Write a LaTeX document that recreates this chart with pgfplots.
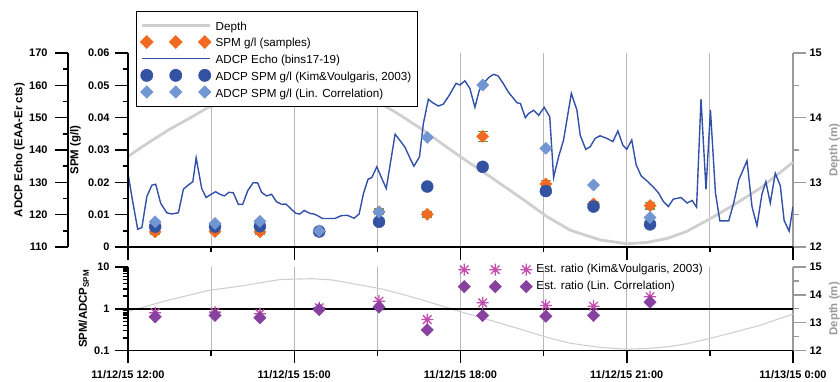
\documentclass[border=0pt]{standalone}
\usepackage{fontspec}
\setmainfont{Liberation Sans}
\usepackage{pgfplots}
\pgfplotsset{compat=1.18}
\usepackage{pgfplotstable}

\definecolor{echoC}{HTML}{3350A8}
\definecolor{orgC}{HTML}{F26A22}
\definecolor{errC}{HTML}{5E9E4E}
\definecolor{kimC}{HTML}{3452A2}
\definecolor{linC}{HTML}{7196D2}
\definecolor{depC}{HTML}{CFCFCF}
\definecolor{starC}{HTML}{C24EB0}
\definecolor{diaC}{HTML}{87419E}
\definecolor{gridC}{HTML}{B8B8B8}
\definecolor{raxC}{HTML}{9A9A9A}

\pgfdeclareplotmark{star8}{%
 \pgfpathmoveto{\pgfqpoint{-\pgfplotmarksize}{0pt}}\pgfpathlineto{\pgfqpoint{\pgfplotmarksize}{0pt}}%
 \pgfpathmoveto{\pgfqpoint{0pt}{-\pgfplotmarksize}}\pgfpathlineto{\pgfqpoint{0pt}{\pgfplotmarksize}}%
 \pgfpathmoveto{\pgfqpoint{-0.707\pgfplotmarksize}{-0.707\pgfplotmarksize}}\pgfpathlineto{\pgfqpoint{0.707\pgfplotmarksize}{0.707\pgfplotmarksize}}%
 \pgfpathmoveto{\pgfqpoint{-0.707\pgfplotmarksize}{0.707\pgfplotmarksize}}\pgfpathlineto{\pgfqpoint{0.707\pgfplotmarksize}{-0.707\pgfplotmarksize}}%
 \pgfusepathqstroke}

\pgfplotstableread{
h d
0 13.40
0.31 13.58
0.73 13.81
1.15 14.01
1.45 14.16
2.02 14.31
2.74 14.55
3.32 14.58
3.70 14.53
4.31 14.31
4.60 14.20
4.91 14.04
5.27 13.84
5.99 13.40
6.53 13.09
7.14 12.73
7.56 12.47
7.98 12.26
8.52 12.11
9.00 12.05
9.36 12.07
9.72 12.13
10.08 12.24
10.51 12.44
10.93 12.65
11.41 12.91
12.00 13.31
}\depthtab

\pgfplotstableread{
h e
0.00 132.8
0.08 124.5
0.175 115.5
0.25 116.0
0.34 125.6
0.43 129.1
0.50 129.4
0.59 123.5
0.70 120.6
0.79 120.2
0.91 120.6
1.00 127.9
1.09 129.2
1.17 130.2
1.23 137.6
1.33 128.1
1.41 125.3
1.50 126.3
1.58 127.1
1.66 126.3
1.74 125.8
1.82 126.9
1.90 126.8
1.99 123.2
2.07 123.2
2.16 127.4
2.26 129.9
2.34 129.8
2.41 126.9
2.50 125.8
2.59 126.3
2.68 124.0
2.77 123.2
2.85 123.3
2.94 121.8
3.03 120.4
3.10 120.2
3.18 121.3
3.28 120.4
3.36 120.2
3.43 119.6
3.51 118.8
3.62 118.8
3.73 118.8
3.85 119.7
3.96 119.8
4.08 118.9
4.17 120.2
4.25 126.6
4.33 130.9
4.40 131.5
4.49 134.8
4.58 131.2
4.66 128.1
4.82 144.9
4.91 142.9
5.00 140.8
5.09 137.4
5.16 135.0
5.26 137.9
5.33 148.2
5.42 155.7
5.50 154.6
5.60 153.6
5.69 154.2
5.80 157.0
5.92 160.6
5.99 160.1
6.08 161.4
6.17 159.0
6.26 153.2
6.34 158.5
6.44 161.1
6.52 162.6
6.60 163.4
6.68 162.9
6.77 160.6
6.86 158.0
6.94 156.3
7.02 154.6
7.08 154.4
7.17 150.0
7.23 151.3
7.32 152.3
7.41 150.7
7.51 153.2
7.61 150.3
7.68 131.5
7.77 137.9
7.86 143.1
8.00 157.5
8.10 152.4
8.16 144.6
8.26 140.2
8.34 141.0
8.43 143.6
8.52 144.4
8.64 143.6
8.75 142.6
8.84 145.9
8.93 141.5
9.00 140.2
9.09 143.1
9.17 135.4
9.26 132.0
9.36 130.5
9.47 128.7
9.57 126.8
9.66 124.1
9.75 122.5
9.84 124.8
9.98 125.3
10.09 123.6
10.18 124.4
10.26 122.3
10.34 155.7
10.43 127.8
10.51 152.4
10.60 126.8
10.68 118.1
10.84 118.1
10.93 123.6
11.02 130.7
11.17 136.7
11.26 122.5
11.35 116.6
11.44 126.4
11.51 130.2
11.59 123.6
11.68 132.8
11.77 129.0
11.84 118.2
11.93 114.9
12.00 122.5
}\echotab

\pgfplotstableread{
h spm err kim lin rk rl
0.49 0.0047 0.0007 0.0063 0.0078 0.80 0.64
1.57 0.0048 0.0007 0.0063 0.0073 0.83 0.69
2.38 0.0047 0.0007 0.0064 0.0079 0.76 0.61
3.45 0.0048 0.0005 0.0048 0.0050 1.06 0.96
4.53 0.0109 0.0008 0.0078 0.0108 1.52 1.09
5.40 0.0101 0.0008 0.0187 0.0339 0.55 0.31
6.40 0.0342 0.0015 0.0248 0.0501 1.39 0.69
7.54 0.0195 0.0010 0.0173 0.0305 1.20 0.66
8.40 0.0133 0.0008 0.0125 0.0192 1.15 0.69
9.42 0.0128 0.0010 0.0070 0.0091 1.94 1.44
}\samptab

\tikzset{ylab/.style={font=\fontsize{11.5}{13}\selectfont\bfseries, inner sep=0pt}}

\pgfplotsset{
  base/.style={scale only axis, xmin=0, xmax=12, tick align=outside,
    major tick length=13bp, minor tick length=5.5bp,
    axis line style={line width=1.8bp},
    every tick/.style={line width=1.5bp, black},
    tick label style={font=\fontsize{11}{13}\selectfont\bfseries},
    scaled y ticks=false, scaled x ticks=false,
    /pgf/number format/assume math mode=true},
  depthaxis/.style={base, ymin=12, ymax=15, axis y line*=right, axis x line*=bottom,
    x axis line style={draw=none}, xtick={1.5,3,4.5,6,7.5,9,10.5}, xticklabels={},
    x tick style={draw=none}, xmajorgrids, major x grid style={gridC, line width=1bp},
    ytick={12,13,14,15}, minor ytick={12.5,13.5,14.5},
    y axis line style={raxC, line width=1.8bp}, y tick style={raxC, line width=1.5bp},
    ylabel={Depth (m)},
    ylabel style={ylab, text=raxC, at={(axis description cs:1.0541,0.5)}, anchor=north}},
}

\begin{document}
\begin{tikzpicture}
\path[use as bounding box] (0,0) rectangle (840bp,382bp);

% ---------- top panel: depth (right axis) ----------
\begin{axis}[depthaxis, at={(128bp,135bp)}, anchor=south west, width=665bp, height=194bp]
\addplot[depC, line width=2.8bp] table[x=h, y=d]{\depthtab};
\end{axis}

% ---------- top panel: echo (outer left axis) ----------
\begin{axis}[base, at={(68bp,135bp)}, anchor=south west, width=725bp, height=194bp,
  xmin=-1.08271, xmax=12, ymin=110, ymax=170,
  axis y line*=left, axis x line=none,
  ytick={110,120,130,140,150,160,170}, minor ytick={115,125,135,145,155,165},
  yticklabel style={xshift=-4bp},
  ylabel={ADCP Echo (EAA-Er cts)},
  ylabel style={ylab, at={(axis description cs:-0.0593,0.5)}, anchor=south}]
\addplot[echoC, line width=1.4bp] table[x=h, y=e]{\echotab};
\end{axis}

% ---------- top panel: SPM (inner left axis) ----------
\begin{axis}[base, at={(128bp,135bp)}, anchor=south west, width=665bp, height=194bp,
  ymin=0, ymax=0.06, axis y line*=left, axis x line*=bottom,
  xtick={0,3,6,9,12}, minor xtick={1.5,4.5,7.5,10.5}, xticklabels={},
  ytick={0,0.01,0.02,0.03,0.04,0.05,0.06},
  yticklabels={0,0.01,0.02,0.03,0.04,0.05,0.06},
  minor ytick={0.005,0.015,0.025,0.035,0.045,0.055},
  yticklabel style={xshift=-2bp},
  ylabel={SPM (g/l)},
  ylabel style={ylab, at={(axis description cs:-0.0707,0.5)}, anchor=south},
  legend cell align=left,
  legend style={at={(axis description cs:0.012,1.219)}, anchor=north west,
    draw=black, line width=0.8bp, fill=white, inner xsep=4bp, inner ysep=6bp,
    font=\fontsize{11.7}{14}\selectfont,
    nodes={text height=11bp, text depth=1bp, inner ysep=2.35bp},
    /tikz/every odd column/.append style={column sep=2bp}}]
\addlegendimage{legend image code/.code={\draw[depC, line width=2.8bp] (1.5bp,0bp) -- (69.5bp,0bp);}}
\addlegendentry{Depth}
\addlegendimage{legend image code/.code={\path[draw=none, mark=square*, mark size=4.5bp, mark options={rotate=45, fill=orgC, draw=orgC}] plot coordinates {(6bp,0bp) (35bp,0bp) (64bp,0bp)};}}
\addlegendentry{SPM g/l (samples)}
\addlegendimage{legend image code/.code={\draw[echoC, line width=1.4bp] (1.5bp,0bp) -- (69.5bp,0bp);}}
\addlegendentry{ADCP Echo (bins17-19)}
\addlegendimage{legend image code/.code={\path[draw=none, mark=*, mark size=6bp, mark options={fill=kimC, draw=kimC}] plot coordinates {(6bp,0bp) (35bp,0bp) (64bp,0bp)};}}
\addlegendentry{ADCP SPM g/l (Kim\&Voulgaris, 2003)}
\addlegendimage{legend image code/.code={\path[draw=none, mark=square*, mark size=4.3bp, mark options={rotate=45, fill=linC, draw=linC}] plot coordinates {(6bp,0bp) (35bp,0bp) (64bp,0bp)};}}
\addlegendentry{ADCP SPM g/l (Lin. Correlation)}

\addplot[forget plot, only marks, mark=square*, mark size=4.3bp,
  mark options={rotate=45, fill=orgC, draw=orgC},
  error bars/.cd, y dir=both, y explicit,
  error bar style={errC, line width=1.5bp},
  error mark options={errC, rotate=90, mark size=5bp, line width=1.5bp}]
  table[x=h, y=spm, y error=err]{\samptab};
\addplot[forget plot, only marks, mark=*, mark size=6bp, mark options={fill=kimC, draw=kimC}]
  table[x=h, y=kim]{\samptab};
\addplot[forget plot, only marks, mark=square*, mark size=4.3bp, mark options={rotate=45, fill=linC, draw=linC}]
  table[x=h, y=lin]{\samptab};
\end{axis}

% ---------- bottom panel: depth ----------
\begin{axis}[depthaxis, at={(128bp,31.5bp)}, anchor=south west, width=665bp, height=83.5bp]
\addplot[depC, line width=1.1bp] table[x=h, y=d]{\depthtab};
\end{axis}

% ---------- bottom panel: ratio ----------
\begin{axis}[base, at={(128bp,31.5bp)}, anchor=south west, width=665bp, height=83.5bp,
  ymode=log, ymin=0.1, ymax=10, axis y line*=left, axis x line*=bottom,
  xtick={0,3,6,9,12}, minor xtick={1.5,4.5,7.5,10.5},
  xticklabels={11/12/15 12:00, 11/12/15 15:00, 11/12/15 18:00, 11/12/15 21:00, 11/13/15 0:00},
  xticklabel style={yshift=-4bp},
  ytick={0.1,1,10}, yticklabels={0.1,1,10},
  minor ytick={0.2,0.3,0.4,0.5,0.6,0.7,0.8,0.9,2,3,4,5,6,7,8,9},
  yticklabel style={xshift=-2bp},
  ylabel={SPM/ADCP\textsubscript{SPM}},
  ylabel style={ylab, at={(axis description cs:-0.0586,0.5)}, anchor=south},
  legend cell align=left,
  legend style={at={(axis description cs:0.496,1.072)}, anchor=north west,
    draw=none, fill=none, inner sep=0bp,
    font=\fontsize{11.7}{14}\selectfont,
    nodes={text height=9bp, text depth=3bp, inner ysep=2.5bp},
    /tikz/every odd column/.append style={column sep=2bp}}]
\addlegendimage{legend image code/.code={\path[draw=none, mark=star8, mark size=6bp, mark options={draw=starC, line width=1.3bp}] plot coordinates {(6bp,0bp) (37bp,0bp) (68bp,0bp)};}}
\addlegendentry{Est. ratio (Kim\&Voulgaris, 2003)}
\addlegendimage{legend image code/.code={\path[draw=none, mark=square*, mark size=4.4bp, mark options={rotate=45, fill=diaC, draw=diaC}] plot coordinates {(6bp,0bp) (37bp,0bp) (68bp,0bp)};}}
\addlegendentry{Est. ratio (Lin. Correlation)}

\addplot[forget plot, black, line width=1.8bp] coordinates {(0,1) (12,1)};
\addplot[forget plot, only marks, mark=star8, mark size=6bp, mark options={draw=starC, line width=1.3bp}]
  table[x=h, y=rk]{\samptab};
\addplot[forget plot, only marks, mark=square*, mark size=4.4bp, mark options={rotate=45, fill=diaC, draw=diaC}]
  table[x=h, y=rl]{\samptab};
\end{axis}
\end{tikzpicture}
\end{document}
